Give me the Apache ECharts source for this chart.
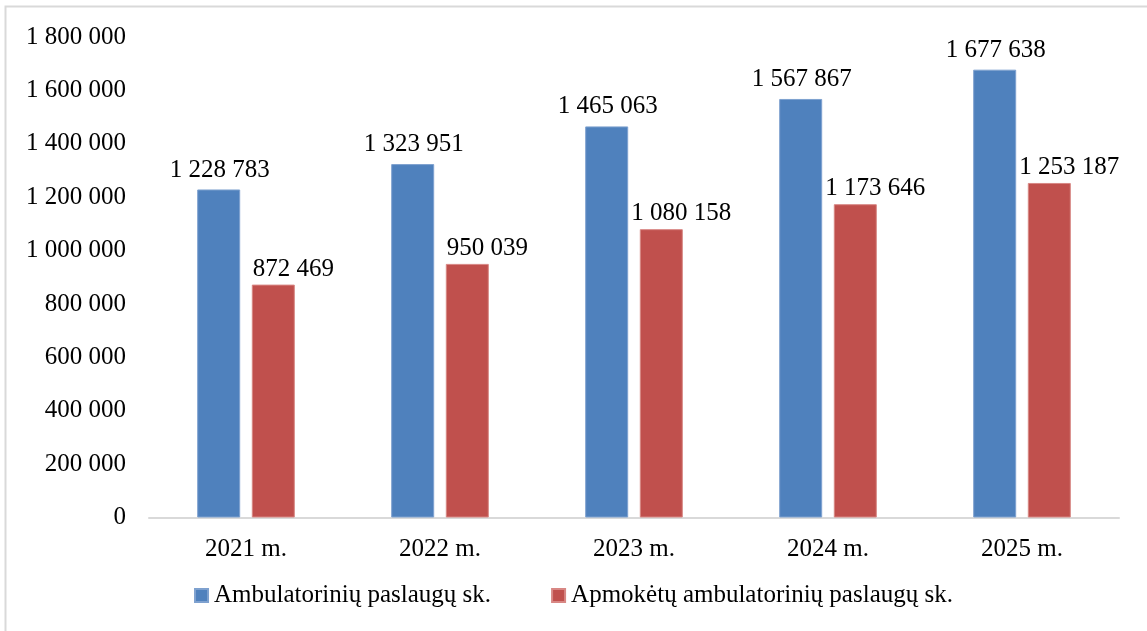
<!DOCTYPE html>
<html>
<head>
<meta charset="utf-8">
<script src="https://cdn.jsdelivr.net/npm/echarts@6/dist/echarts.min.js"></script>
<style>
html,body{margin:0;padding:0;background:#fff;}
#chart{width:1147px;height:631px;}
</style>
</head>
<body>
<div id="chart"></div>
<script>
const categories = ['2021 m.', '2022 m.', '2023 m.', '2024 m.', '2025 m.'];
const ambulatoriniu = [1228783, 1323951, 1465063, 1567867, 1677638];
const apmoketu = [872469, 950039, 1080158, 1173646, 1253187];
const seriesNames = ['Ambulatorinių paslaugų sk.', 'Apmokėtų ambulatorinių paslaugų sk.'];

const FONT = '"Liberation Serif", serif';
const fmt = v => String(v).replace(/\B(?=(\d{3})+(?!\d))/g, ' ');

const chart = echarts.init(document.getElementById('chart'), null, {renderer: 'canvas'});
chart.setOption({
  animation: false,
  backgroundColor: '#ffffff',
  textStyle: {fontFamily: FONT},
  graphic: [{
    type: 'rect',
    shape: {x: 5.5, y: 6.5, width: 1300, height: 800},
    style: {fill: 'none', stroke: '#d9d9d9', lineWidth: 2},
    silent: true
  }],
  grid: {left: 149, right: 28, top: 37, bottom: 113.5, containLabel: false},
  legend: {
    bottom: 18,
    left: 'center',
    itemWidth: 13,
    itemHeight: 13,
    itemGap: 60,
    icon: 'rect',
    textStyle: {fontFamily: FONT, fontSize: 25, color: '#000', padding: [0, 0, 0, 1]},
    data: seriesNames
  },
  xAxis: {
    type: 'category',
    data: categories,
    axisLine: {lineStyle: {color: '#d9d9d9', width: 2}},
    axisTick: {show: false},
    axisLabel: {fontFamily: FONT, fontSize: 25, color: '#000', margin: 19}
  },
  yAxis: {
    type: 'value',
    min: 0,
    max: 1800000,
    interval: 200000,
    axisLine: {show: false},
    axisTick: {show: false},
    splitLine: {show: false},
    axisLabel: {fontFamily: FONT, fontSize: 25, color: '#000', margin: 23, formatter: fmt}
  },
  series: [
    {
      name: seriesNames[0],
      type: 'bar',
      data: ambulatoriniu,
      barWidth: 43,
      barGap: '27%',
      itemStyle: {color: '#4f81bd', borderColor: '#7ea1cf', borderWidth: 1},
      label: {show: true, position: 'top', distance: 7, offset: [1, 0], fontFamily: FONT, fontSize: 25, color: '#000', formatter: p => fmt(p.value)}
    },
    {
      name: seriesNames[1],
      type: 'bar',
      data: apmoketu,
      barWidth: 43,
      barGap: '27%',
      itemStyle: {color: '#c0504d', borderColor: '#d88784', borderWidth: 1},
      label: {show: true, position: 'top', distance: 3, offset: [20, 0], fontFamily: FONT, fontSize: 25, color: '#000', formatter: p => fmt(p.value)}
    }
  ]
});
</script>
</body>
</html>
